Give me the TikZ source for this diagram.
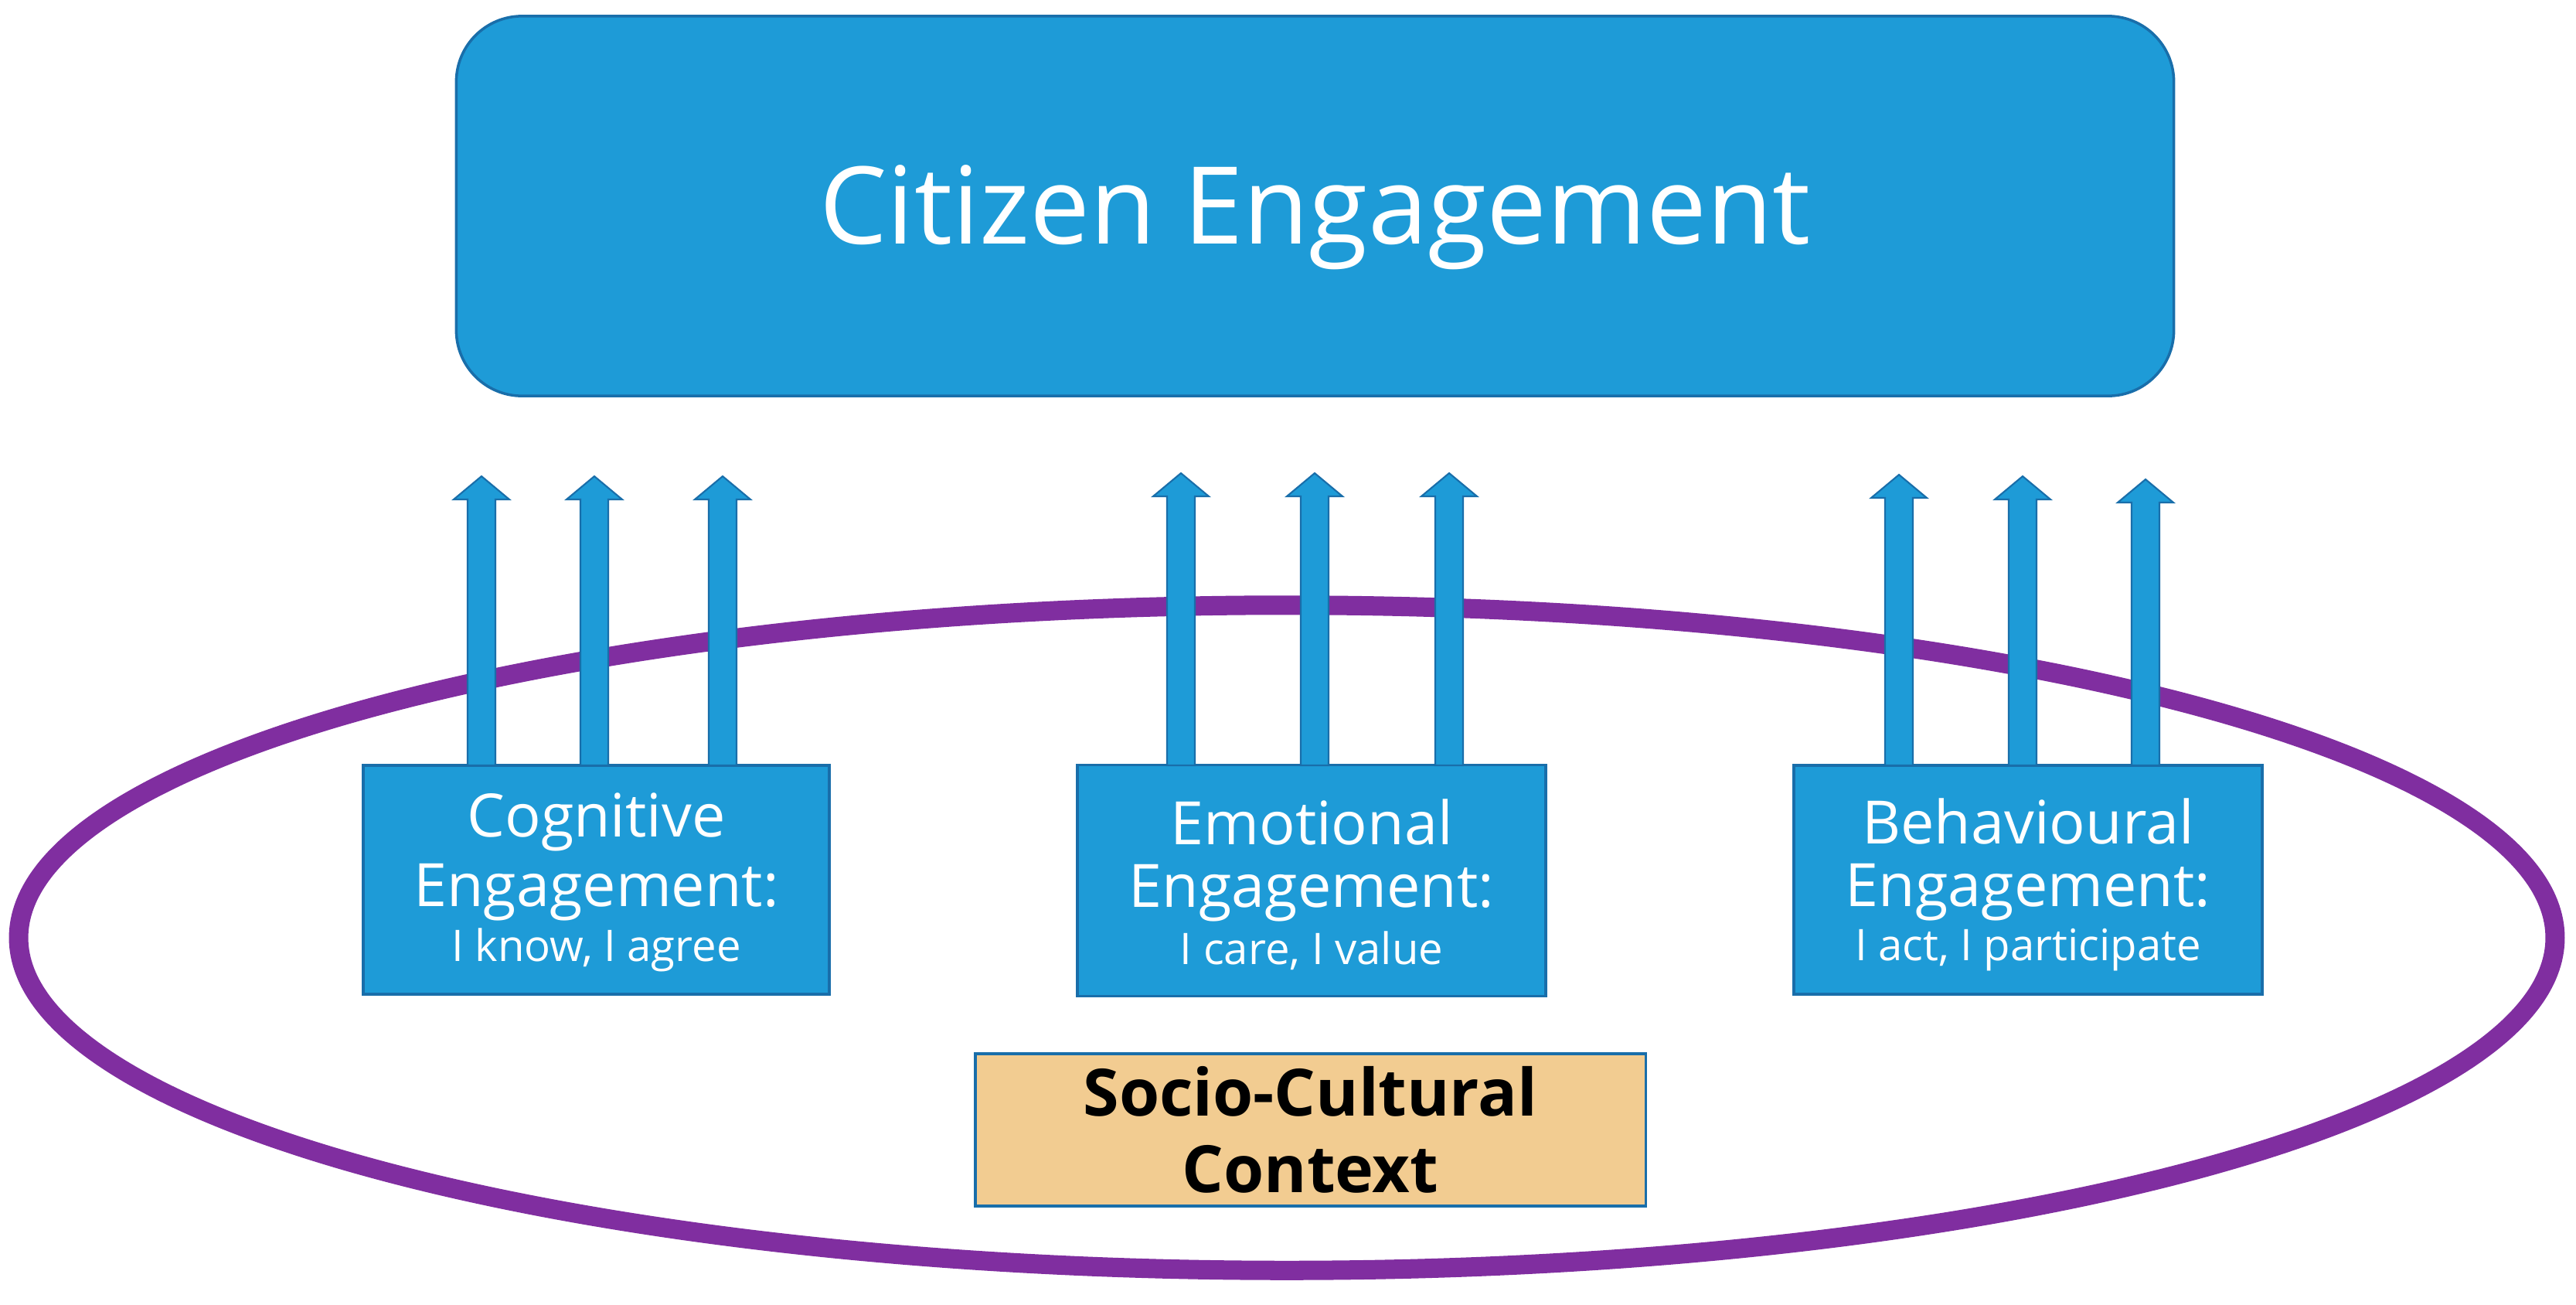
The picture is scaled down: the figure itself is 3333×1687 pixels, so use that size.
\documentclass[tikz,border=0pt]{standalone}
\usepackage{fontspec}
\setmainfont{Open Sans}
\definecolor{cblue}{RGB}{30,155,215}
\definecolor{cedge}{RGB}{25,110,170}
\definecolor{cpurple}{RGB}{128,46,160}
\definecolor{ctan}{RGB}{242,204,145}
\begin{document}
\begin{tikzpicture}[x=0.01cm,y=-0.01cm,
  bluebox/.style={draw=cedge,line width=1pt,fill=cblue,text=white,align=center,inner sep=0pt},
  sub/.style={font=\fontsize{16}{19}\selectfont},
  big/.style={font=\fontsize{22}{26}\selectfont},
  uparrow/.style={fill=cblue,draw=cedge,line width=0.6pt}]
\useasboundingbox (0,0) rectangle (3333,1687);
\draw[cpurple,line width=0.25cm] (1665,1213) ellipse [x radius=16.40cm,y radius=4.30cm];
\node[bluebox,rounded corners=0.85cm,minimum width=22.21cm,minimum height=4.91cm] (top) at (1701.5,266.5) {};
\node[text=white,font=\fontsize{39.5}{46}\selectfont] (title) at ([yshift=-0.15cm]top.center) {Citizen Engagement};
\node[bluebox,minimum width=6.03cm,minimum height=2.96cm] (cog) at (771.5,1138) {};
\node[bluebox,minimum width=6.06cm,minimum height=2.99cm] (emo) at (1697,1139) {};
\node[bluebox,minimum width=6.06cm,minimum height=2.96cm] (beh) at (2624,1138) {};
\foreach \b/\a/\c in {cog/Cognitive/{I know, I agree},emo/Emotional/{I care, I value},beh/Behavioural/{I act, I participate}}{
  \node[text=white,big] (\b1) at ([yshift=0.75cm]\b.center) {\a};
  \node[text=white,big] (\b2) at ([yshift=-0.16cm]\b.center) {Engagement:};
  \node[text=white,sub] (\b3) at ([yshift=-0.91cm]\b.center) {\c};
}
\foreach \x/\t/\n in {623/616/a1,769/616/a2,935/616/a3,1528/612/b1,1701/612/b2,1875/612/b3,2457/614/c1,2617/616/c2,2776/620/c3}{
  \coordinate (\n) at (\x,\t);
  \draw[uparrow] (\x-18,990) -- (\x-18,\t+30) -- (\x-36,\t+30) -- (\x,\t) -- (\x+36,\t+30) -- (\x+18,\t+30) -- (\x+18,990) -- cycle;
}
\node[draw=cedge,line width=1pt,fill=ctan,minimum width=8.67cm,minimum height=1.97cm,align=center,inner sep=0pt,font=\bfseries\fontsize{24}{28}\selectfont] (soc) at (1695.5,1461.5) {Socio-Cultural\\Context};
\end{tikzpicture}
\end{document}
